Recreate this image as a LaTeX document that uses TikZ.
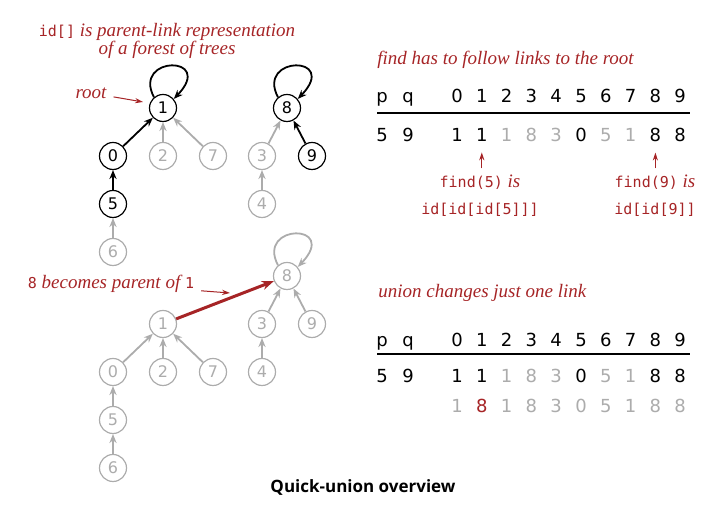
\documentclass[tikz,border=0pt]{standalone}
\usepackage{fontspec}
\setmainfont{Liberation Serif}
\setsansfont{DejaVu Sans}
\setmonofont{DejaVu Sans Mono}
\newfontfamily\capfont{Open Sans}
\usepackage{tikz}
\usetikzlibrary{trees,arrows.meta}
\definecolor{bookred}{RGB}{166,36,38}
\definecolor{faint}{RGB}{172,172,172}
\newcommand{\tcode}[1]{{\ttfamily\upshape\fontsize{7.5}{9}\selectfont #1}}
\newcommand{\tit}[1]{{\rmfamily\itshape\fontsize{9.5}{9}\selectfont #1}}

\begin{document}
\begin{tikzpicture}
[x=0.5pt, y=0.5pt, grow=down, level distance=24pt, sibling distance=25pt,
 >={Stealth[length=4.5pt,width=3.6pt]}]
\tikzset{
	site/.style = {circle, draw, minimum size=13.5pt, inner sep=0pt, line width=0.6pt, font=\sffamily\fontsize{8}{8}\selectfont},
	faded/.style = {color=faint},
	edge from parent/.style = {draw, <-, line width=0.9pt},
	loop arrow/.style = {->, line width=0.9pt},
	remark/.style = {text=bookred, font=\itshape\fontsize{9.5}{9}\selectfont},
	code/.style = {text=bookred, anchor=base, font=\ttfamily\fontsize{7.5}{9}\selectfont},
	pointer/.style = {draw=bookred, ->, line width=0.5pt, >={Stealth[length=4pt,width=2.6pt]}},
	union link/.style = {draw=bookred, ->, line width=1.5pt, >={Stealth[length=6pt,width=4.5pt]}},
	entry/.style = {anchor=base, inner sep=0pt, font=\sffamily\fontsize{9}{9}\selectfont},
	rule/.style = {line width=0.8pt}
}
\useasboundingbox (0,0) rectangle (718,528);

% forest before union
\node (u1) [site] at (163,420) {1}
	child{
		node (u0) [site] {0}
		child{
			node (u5) [site] {5}
			child[faded]{ node (u6) [site] {6} }
		}
	}
	child[faded]{ node (u2) [site] {2} }
	child[faded]{ node (u7) [site] {7} }
;
\node (u8) [site] at (287,420) {8}
	child[faded]{
		node (u3) [site] {3}
		child{ node (u4) [site] {4} }
	}
	child{ node (u9) [site] {9} }
;
\draw [loop arrow] (u1.130) .. controls +(-11pt,21pt) and +(21pt,22pt) .. (u1.40);
\draw [loop arrow] (u8.130) .. controls +(-11pt,21pt) and +(21pt,22pt) .. (u8.40);

\node (forest note) [remark, align=center] at (167,487) {\tcode{id[]} is parent-link representation\\of a forest of trees};
\node (root) [remark] at (91,435) {root};
\coordinate (root tip) at (143,426);
\draw [pointer] (root) -- (root tip);

% forest after union
\begin{scope}[faded]
\node (l1) [site] at (163,204) {1}
	child{
		node (l0) [site] {0}
		child{
			node (l5) [site] {5}
			child{ node (l6) [site] {6} }
		}
	}
	child{ node (l2) [site] {2} }
	child{ node (l7) [site] {7} }
;
\node (l8) [site] at (287,252) {8}
	child{
		node (l3) [site] {3}
		child{ node (l4) [site] {4} }
	}
	child{ node (l9) [site] {9} }
;
\draw [loop arrow] (l8.130) .. controls +(-11pt,21pt) and +(21pt,22pt) .. (l8.40);
\end{scope}
\draw [union link] (l1) -- (l8);

\node (parent note) [remark] at (111,244) {\tcode{8} becomes parent of \tcode{1}};
\coordinate (parent tip) at (230,235);
\draw [pointer] (parent note) -- (parent tip);

% find table
\node (find note) [remark, anchor=base west, inner sep=0pt] at (377,463) {find has to follow links to the root};
\node (p1) [entry] at (382,425) {p};
\node (q1) [entry] at (408,425) {q};
\foreach \i in {0,...,9}
	\node (head1-\i) [entry] at ({457+24.8*\i},425) {\i};
\draw [rule] (377,415) -- (690,415);
\node (pv1) [entry] at (382,386) {5};
\node (qv1) [entry] at (408,386) {9};
\foreach \v/\c [count=\i from 0] in {1/black,1/black,1/faint,8/faint,3/faint,0/black,5/faint,1/faint,8/black,8/black}
	\node (row1-\i) [entry, text=\c] at ({457+24.8*\i},386) {\v};

\node (find5) [code] at (480,340) {find(5)\tit{ is}};
\node (path5) [code] at (480,313) {id[id[id[5]]]};
\node (find9) [code] at (655,340) {find(9)\tit{ is}};
\node (path9) [code] at (655,313) {id[id[9]]};
\draw [pointer, shorten >=5pt] (find5.north -| row1-1) -- (row1-1.south);
\draw [pointer, shorten >=5pt] (find9.north -| row1-8) -- (row1-8.south);

% union table
\node (union note) [remark, anchor=base west, inner sep=0pt] at (378,230) {union changes just one link};
\node (p2) [entry] at (382,181) {p};
\node (q2) [entry] at (408,181) {q};
\foreach \i in {0,...,9}
	\node (head2-\i) [entry] at ({457+24.8*\i},181) {\i};
\draw [rule] (377,174) -- (690,174);
\node (pv2) [entry] at (382,145) {5};
\node (qv2) [entry] at (408,145) {9};
\foreach \v/\c [count=\i from 0] in {1/black,1/black,1/faint,8/faint,3/faint,0/black,5/faint,1/faint,8/black,8/black}
	\node (row2-\i) [entry, text=\c] at ({457+24.8*\i},145) {\v};
\foreach \v/\c [count=\i from 0] in {1/faint,8/bookred,1/faint,8/faint,3/faint,0/faint,5/faint,1/faint,8/faint,8/faint}
	\node (row3-\i) [entry, text=\c] at ({457+24.8*\i},115) {\v};

\node (caption) at (363,41) {\capfont\bfseries\fontsize{8.5}{9}\selectfont Quick-union overview};
\end{tikzpicture}
\end{document}
